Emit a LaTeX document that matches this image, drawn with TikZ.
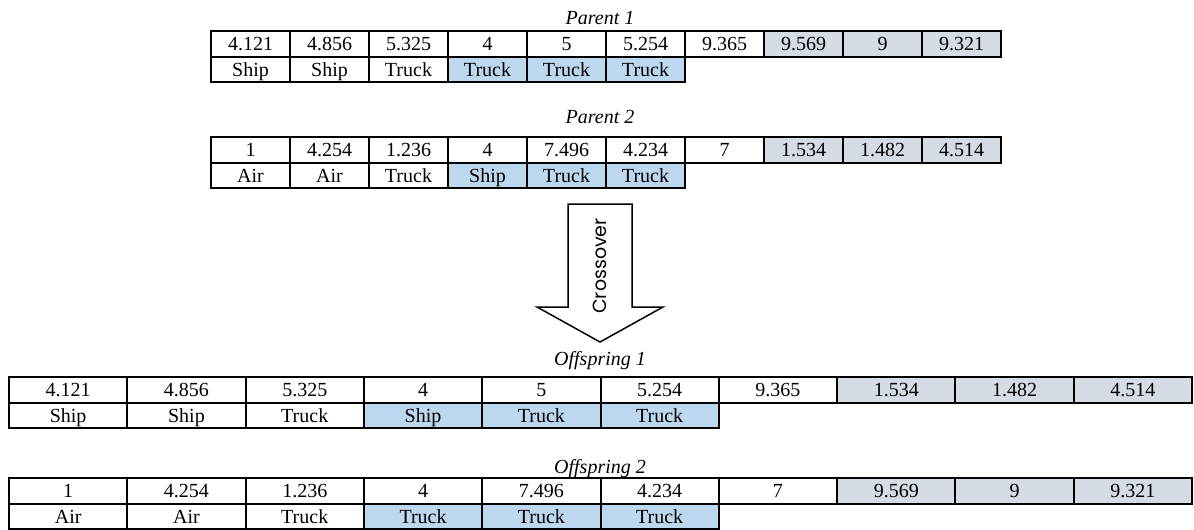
\documentclass[tikz,border=0pt]{standalone}
\usepackage{fontspec}
\setmainfont{Liberation Serif}
\newfontfamily\arrowfont{Poppins}
\definecolor{tailgray}{RGB}{214,220,228}
\definecolor{modeblue}{RGB}{189,215,238}

\begin{document}
\begin{tikzpicture}[x=0.5pt, y=-0.5pt,
  pcell/.style={draw, rectangle, line width=1pt, minimum width=39.5pt, minimum height=12.75pt,
    inner sep=0pt, text height=6.8pt, text depth=0pt, font=\fontsize{10}{12}\selectfont},
  ocell/.style={pcell, minimum width=59.15pt},
  tailcell/.style={fill=tailgray},
  modecell/.style={fill=modeblue},
  chromlabel/.style={anchor=base, font=\fontsize{10}{12}\selectfont\itshape}]
  \useasboundingbox (0,0) rectangle (1194,530);

  \node[chromlabel] (p1) at (600,25) {Parent 1};
  \node[pcell] (p1v1) at (250.5,43.8) {4.121};
  \node[pcell] (p1v2) at (329.5,43.8) {4.856};
  \node[pcell] (p1v3) at (408.5,43.8) {5.325};
  \node[pcell] (p1v4) at (487.5,43.8) {4};
  \node[pcell] (p1v5) at (566.5,43.8) {5};
  \node[pcell] (p1v6) at (645.5,43.8) {5.254};
  \node[pcell] (p1v7) at (724.5,43.8) {9.365};
  \node[pcell, tailcell] (p1v8) at (803.5,43.8) {9.569};
  \node[pcell, tailcell] (p1v9) at (882.5,43.8) {9};
  \node[pcell, tailcell] (p1v10) at (961.5,43.8) {9.321};
  \node[pcell] (p1m1) at (250.5,69.3) {Ship};
  \node[pcell] (p1m2) at (329.5,69.3) {Ship};
  \node[pcell] (p1m3) at (408.5,69.3) {Truck};
  \node[pcell, modecell] (p1m4) at (487.5,69.3) {Truck};
  \node[pcell, modecell] (p1m5) at (566.5,69.3) {Truck};
  \node[pcell, modecell] (p1m6) at (645.5,69.3) {Truck};

  \node[chromlabel] (p2) at (600,123) {Parent 2};
  \node[pcell] (p2v1) at (250.5,149.8) {1};
  \node[pcell] (p2v2) at (329.5,149.8) {4.254};
  \node[pcell] (p2v3) at (408.5,149.8) {1.236};
  \node[pcell] (p2v4) at (487.5,149.8) {4};
  \node[pcell] (p2v5) at (566.5,149.8) {7.496};
  \node[pcell] (p2v6) at (645.5,149.8) {4.234};
  \node[pcell] (p2v7) at (724.5,149.8) {7};
  \node[pcell, tailcell] (p2v8) at (803.5,149.8) {1.534};
  \node[pcell, tailcell] (p2v9) at (882.5,149.8) {1.482};
  \node[pcell, tailcell] (p2v10) at (961.5,149.8) {4.514};
  \node[pcell] (p2m1) at (250.5,175.3) {Air};
  \node[pcell] (p2m2) at (329.5,175.3) {Air};
  \node[pcell] (p2m3) at (408.5,175.3) {Truck};
  \node[pcell, modecell] (p2m4) at (487.5,175.3) {Ship};
  \node[pcell, modecell] (p2m5) at (566.5,175.3) {Truck};
  \node[pcell, modecell] (p2m6) at (645.5,175.3) {Truck};

  \draw[line width=0.75pt, line join=miter] (568,204) -- (632,204) -- (632,307) -- (663,307)
    -- (600,342) -- (537,307) -- (568,307) -- cycle;
  \node[rotate=90, font=\arrowfont\fontsize{9.5}{11}\selectfont] (xover) at (600,266) {Crossover};

  \node[chromlabel] (o1) at (600,365) {Offspring 1};
  \node[ocell] (o1v1) at (68.15,389.8) {4.121};
  \node[ocell] (o1v2) at (186.45,389.8) {4.856};
  \node[ocell] (o1v3) at (304.75,389.8) {5.325};
  \node[ocell] (o1v4) at (423.05,389.8) {4};
  \node[ocell] (o1v5) at (541.35,389.8) {5};
  \node[ocell] (o1v6) at (659.65,389.8) {5.254};
  \node[ocell] (o1v7) at (777.95,389.8) {9.365};
  \node[ocell, tailcell] (o1v8) at (896.25,389.8) {1.534};
  \node[ocell, tailcell] (o1v9) at (1014.55,389.8) {1.482};
  \node[ocell, tailcell] (o1v10) at (1132.85,389.8) {4.514};
  \node[ocell] (o1m1) at (68.15,415.3) {Ship};
  \node[ocell] (o1m2) at (186.45,415.3) {Ship};
  \node[ocell] (o1m3) at (304.75,415.3) {Truck};
  \node[ocell, modecell] (o1m4) at (423.05,415.3) {Ship};
  \node[ocell, modecell] (o1m5) at (541.35,415.3) {Truck};
  \node[ocell, modecell] (o1m6) at (659.65,415.3) {Truck};

  \node[chromlabel] (o2) at (600,473) {Offspring 2};
  \node[ocell] (o2v1) at (68.15,490.8) {1};
  \node[ocell] (o2v2) at (186.45,490.8) {4.254};
  \node[ocell] (o2v3) at (304.75,490.8) {1.236};
  \node[ocell] (o2v4) at (423.05,490.8) {4};
  \node[ocell] (o2v5) at (541.35,490.8) {7.496};
  \node[ocell] (o2v6) at (659.65,490.8) {4.234};
  \node[ocell] (o2v7) at (777.95,490.8) {7};
  \node[ocell, tailcell] (o2v8) at (896.25,490.8) {9.569};
  \node[ocell, tailcell] (o2v9) at (1014.55,490.8) {9};
  \node[ocell, tailcell] (o2v10) at (1132.85,490.8) {9.321};
  \node[ocell] (o2m1) at (68.15,516.3) {Air};
  \node[ocell] (o2m2) at (186.45,516.3) {Air};
  \node[ocell] (o2m3) at (304.75,516.3) {Truck};
  \node[ocell, modecell] (o2m4) at (423.05,516.3) {Truck};
  \node[ocell, modecell] (o2m5) at (541.35,516.3) {Truck};
  \node[ocell, modecell] (o2m6) at (659.65,516.3) {Truck};
\end{tikzpicture}
\end{document}
